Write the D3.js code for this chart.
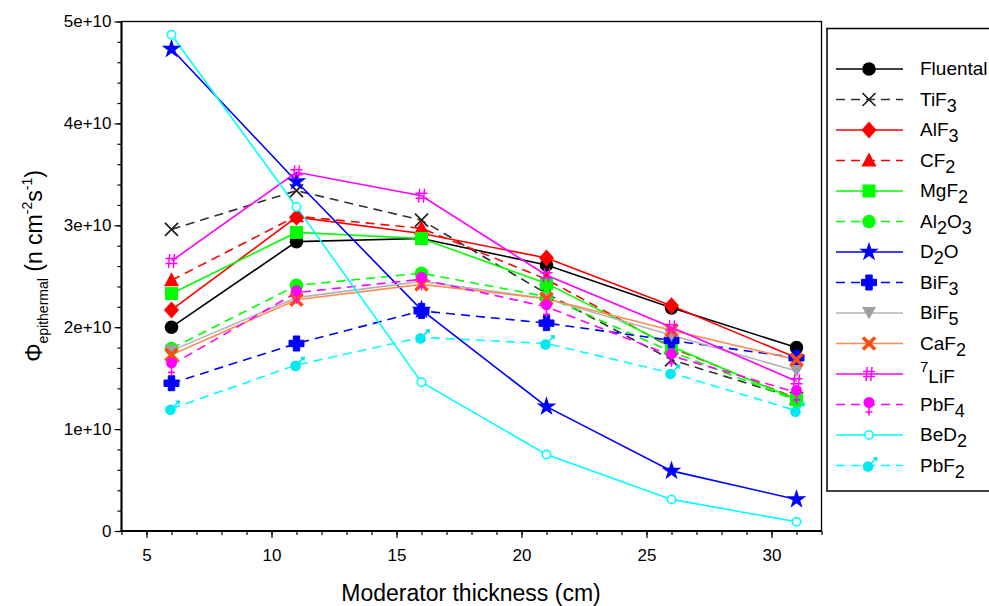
<!DOCTYPE html>
<html>
<head>
<meta charset="utf-8">
<script src="https://cdn.jsdelivr.net/npm/d3@7"></script>
<style>
  html, body { margin: 0; padding: 0; background: #fff; }
  svg { display: block; font-family: "Liberation Sans", Arial, sans-serif; }
</style>
</head>
<body>
<svg id="chart" width="989" height="606"></svg>
<script>
// ---------- data (neutron flux, n cm^-2 s^-1) ----------
const thickness = [6, 11, 16, 21, 26, 31];
const fluental = [2.00e10, 2.84e10, 2.87e10, 2.61e10, 2.19e10, 1.80e10];
const tiF3     = [2.96e10, 3.34e10, 3.05e10, 2.33e10, 1.68e10, 1.30e10];
const alF3     = [2.17e10, 3.08e10, 2.92e10, 2.68e10, 2.21e10, 1.70e10];
const cF2      = [2.46e10, 3.09e10, 2.97e10, 2.47e10, 1.80e10, 1.30e10];
const mgF2     = [2.33e10, 2.93e10, 2.87e10, 2.43e10, 1.81e10, 1.29e10];
const al2O3    = [1.79e10, 2.41e10, 2.53e10, 2.30e10, 1.76e10, 1.28e10];
const d2O      = [4.73e10, 3.43e10, 2.17e10, 1.22e10, 0.59e10, 0.31e10];
const biF3     = [1.45e10, 1.84e10, 2.16e10, 2.04e10, 1.87e10, 1.70e10];
const biF5     = [1.77e10, 2.29e10, 2.45e10, 2.28e10, 1.92e10, 1.57e10];
const caF2     = [1.73e10, 2.27e10, 2.42e10, 2.28e10, 1.97e10, 1.68e10];
const liF7     = [2.65e10, 3.52e10, 3.29e10, 2.51e10, 2.00e10, 1.47e10];
const pbF4     = [1.63e10, 2.34e10, 2.47e10, 2.20e10, 1.72e10, 1.36e10];
const beD2     = [4.87e10, 3.18e10, 1.46e10, 0.75e10, 0.31e10, 0.09e10];
const pbF2     = [1.20e10, 1.63e10, 1.90e10, 1.84e10, 1.55e10, 1.18e10];

const xTickValues = [5, 10, 15, 20, 25, 30];
const yTickValues = [0, 1e10, 2e10, 3e10, 4e10, 5e10];
const yTickLabels = ["0", "1e+10", "2e+10", "3e+10", "4e+10", "5e+10"];

// legend label pieces: [text, kind] kind: n normal, sub subscript, sup superscript
const seriesLabels = [
  [["Fluental","n"]],
  [["TiF","n"],["3","sub"]],
  [["AlF","n"],["3","sub"]],
  [["CF","n"],["2","sub"]],
  [["MgF","n"],["2","sub"]],
  [["Al","n"],["2","sub"],["O","n"],["3","sub"]],
  [["D","n"],["2","sub"],["O","n"]],
  [["BiF","n"],["3","sub"]],
  [["BiF","n"],["5","sub"]],
  [["CaF","n"],["2","sub"]],
  [["7","sup"],["LiF","subn"]],
  [["PbF","n"],["4","sub"]],
  [["BeD","n"],["2","sub"]],
  [["PbF","n"],["2","sub"]]
];
const seriesValues = [fluental, tiF3, alF3, cF2, mgF2, al2O3, d2O, biF3, biF5, caF2, liF7, pbF4, beD2, pbF2];

// styles
const styles = [
  {line:"#000000", mark:"#000000", dash:null,  marker:"circle"},
  {line:"#303030", mark:"#202020", dash:"9,6", marker:"x"},
  {line:"#ff0000", mark:"#ff0000", dash:null,  marker:"diamond"},
  {line:"#ff0000", mark:"#ff0000", dash:"9,6", marker:"triangle"},
  {line:"#00ff00", mark:"#00ff00", dash:null,  marker:"square"},
  {line:"#00ff00", mark:"#00ff00", dash:"9,6", marker:"circle"},
  {line:"#0000ff", mark:"#0000ff", dash:null,  marker:"star"},
  {line:"#0000ff", mark:"#0000ff", dash:"9,6", marker:"plus"},
  {line:"#b4b4b4", mark:"#a0a0a0", dash:null,  marker:"tridown"},
  {line:"#ff8c55", mark:"#ff4a10", dash:null,  marker:"xthick"},
  {line:"#ff00ff", mark:"#ff00ff", dash:null,  marker:"hash"},
  {line:"#ff00ff", mark:"#ff00ff", dash:"9,6", marker:"female"},
  {line:"#00ffff", mark:"#00ffff", dash:null,  marker:"open"},
  {line:"#00ffff", mark:"#00e8f0", dash:"9,6", marker:"male"}
];

const svg = d3.select("#chart");
svg.append("rect").attr("width", 989).attr("height", 606).attr("fill", "#fff");

const x = d3.scaleLinear().domain([4, 32]).range([121.5, 821.5]);
const y = d3.scaleLinear().domain([0, 5e10]).range([531, 21.5]);

// ---------- markers ----------
function drawMarker(g, type, color) {
  switch (type) {
    case "circle":
      g.append("circle").attr("r", 6.8).attr("fill", color); break;
    case "x":
      g.append("path").attr("d", "M-6.5,-6.5L6.5,6.5M-6.5,6.5L6.5,-6.5")
        .attr("stroke", color).attr("stroke-width", 1.7).attr("fill", "none"); break;
    case "diamond":
      g.append("path").attr("d", "M0,-8.5L7.5,0L0,8.5L-7.5,0Z").attr("fill", color); break;
    case "triangle":
      g.append("path").attr("d", "M0,-8L7.5,6L-7.5,6Z").attr("fill", color); break;
    case "square":
      g.append("rect").attr("x", -6.5).attr("y", -6.5).attr("width", 13).attr("height", 13).attr("fill", color); break;
    case "star":
      g.append("path").attr("d", d3.symbol(d3.symbolStar, 120)()).attr("fill", color); break;
    case "plus":
      g.append("path").attr("d", "M-3.2,-7.5H3.2V-3.2H7.5V3.2H3.2V7.5H-3.2V3.2H-7.5V-3.2H-3.2Z")
        .attr("fill", color).attr("stroke", color).attr("stroke-width", 1).attr("stroke-linejoin", "round"); break;
    case "tridown":
      g.append("path").attr("d", "M-7,-6L7,-6L0,6.5Z").attr("fill", color); break;
    case "xthick":
      g.append("path").attr("d", "M-6,-6L6,6M-6,6L6,-6")
        .attr("stroke", color).attr("stroke-width", 3.6).attr("fill", "none"); break;
    case "hash":
      g.append("path").attr("d", "M-1.8,-7L-3,7M3,-7L1.8,7M-6,-2.5H6M-6,2.5H6")
        .attr("stroke", color).attr("stroke-width", 1.5).attr("fill", "none"); break;
    case "female":
      g.append("circle").attr("cy", -2).attr("r", 5.5).attr("fill", color);
      g.append("path").attr("d", "M0,3V11M-3.5,7.5H3.5")
        .attr("stroke", color).attr("stroke-width", 1.6).attr("fill", "none"); break;
    case "open":
      g.append("circle").attr("r", 4.2).attr("fill", "#fff")
        .attr("stroke", color).attr("stroke-width", 1.6); break;
    case "male":
      g.append("circle").attr("cx", -1).attr("cy", 1).attr("r", 5.3).attr("fill", color);
      g.append("path").attr("d", "M2,-2L7.5,-7.5").attr("stroke", color).attr("stroke-width", 1.6);
      g.append("path").attr("d", "M8.5,-8.5L3.5,-8L8,-3.5Z").attr("fill", color); break;
  }
}

// ---------- frame & axes ----------
const plot = svg.append("g");

// minor ticks x
svg.append("g").attr("transform", "translate(0,531)")
  .call(d3.axisBottom(x).tickValues(d3.range(4, 33, 1)).tickSize(4).tickFormat(""))
  .call(g => g.select(".domain").remove())
  .call(g => g.selectAll("line").attr("stroke", "#000").attr("stroke-width", 1.2));
// major ticks x
svg.append("g").attr("transform", "translate(0,531)")
  .call(d3.axisBottom(x).tickValues(xTickValues).tickSize(7).tickPadding(11).tickFormat(d3.format("d")))
  .call(g => g.select(".domain").remove())
  .call(g => g.selectAll("line").attr("stroke", "#000").attr("stroke-width", 1.2))
  .call(g => g.selectAll("text").attr("font-size", 17).attr("fill", "#000")
        .attr("font-family", "'Liberation Sans', Arial, sans-serif"));

// minor ticks y
svg.append("g").attr("transform", "translate(121.5,0)")
  .call(d3.axisLeft(y).tickValues(d3.range(0, 5.01e10, 0.2e10)).tickSize(4).tickFormat(""))
  .call(g => g.select(".domain").remove())
  .call(g => g.selectAll("line").attr("stroke", "#000").attr("stroke-width", 1.2));
// major ticks y
svg.append("g").attr("transform", "translate(121.5,0)")
  .call(d3.axisLeft(y).tickValues(yTickValues).tickSize(7).tickPadding(3)
        .tickFormat((d, i) => yTickLabels[i]))
  .call(g => g.select(".domain").remove())
  .call(g => g.selectAll("line").attr("stroke", "#000").attr("stroke-width", 1.2))
  .call(g => g.selectAll("text").attr("font-size", 17).attr("fill", "#000")
        .attr("font-family", "'Liberation Sans', Arial, sans-serif"));

// ---------- series ----------
const line = d3.line().x((d, i) => x(thickness[i])).y(d => y(d));
seriesValues.forEach((vals, s) => {
  const st = styles[s];
  plot.append("path").datum(vals).attr("d", line)
    .attr("fill", "none").attr("stroke", st.line).attr("stroke-width", 1.6)
    .attr("stroke-dasharray", st.dash);
});
seriesValues.forEach((vals, s) => {
  const st = styles[s];
  vals.forEach((v, i) => {
    const g = plot.append("g").attr("transform", `translate(${x(thickness[i])},${y(v)})`);
    drawMarker(g, st.marker, st.mark);
  });
});

// frame
svg.append("rect").attr("x", 121.5).attr("y", 21.5).attr("width", 700).attr("height", 509.5)
  .attr("fill", "none").attr("stroke", "#000").attr("stroke-width", 1.3);
svg.append("line").attr("x1", 121.5).attr("x2", 121.5).attr("y1", 21.5).attr("y2", 531)
  .attr("stroke", "#000").attr("stroke-width", 2);
svg.append("line").attr("x1", 121.5).attr("x2", 821.5).attr("y1", 531).attr("y2", 531)
  .attr("stroke", "#000").attr("stroke-width", 2);

// ---------- axis titles ----------
svg.append("text").attr("x", 471).attr("y", 601).attr("text-anchor", "middle")
  .attr("font-size", 23).attr("fill", "#000").text("Moderator thickness (cm)");

const yt = svg.append("text").attr("transform", "translate(42,266) rotate(-90)")
  .attr("text-anchor", "middle").attr("font-size", 23).attr("fill", "#000");
yt.append("tspan").text("Φ");
yt.append("tspan").attr("font-size", 14).attr("dy", 6).text("epithermal");
yt.append("tspan").attr("dy", -6).text(" (n cm");
yt.append("tspan").attr("font-size", 14).attr("dy", -10).text("-2");
yt.append("tspan").attr("dy", 10).text("s");
yt.append("tspan").attr("font-size", 14).attr("dy", -10).text("-1");
yt.append("tspan").attr("dy", 10).text(")");

// ---------- legend ----------
const lg = svg.append("g");
lg.append("rect").attr("x", 827).attr("y", 28.5).attr("width", 175).attr("height", 462.5)
  .attr("fill", "#fff").attr("stroke", "#000").attr("stroke-width", 1.5);
seriesLabels.forEach((lab, s) => {
  const st = styles[s];
  const cy = 69 + s * 30.5;
  lg.append("line").attr("x1", 836).attr("x2", 903).attr("y1", cy).attr("y2", cy)
    .attr("stroke", st.line).attr("stroke-width", 1.6).attr("stroke-dasharray", st.dash);
  const g = lg.append("g").attr("transform", `translate(869,${cy})`);
  drawMarker(g, st.marker, st.mark);
  const t = lg.append("text").attr("x", 920).attr("y", cy + 6).attr("font-size", 19).attr("fill", "#000");
  let cur = 0;
  lab.forEach(([txt, kind]) => {
    let target = 0, fs = 19;
    if (kind === "sub") { target = 6; fs = 18; }
    else if (kind === "sup") { target = -8; fs = 15; }
    else if (kind === "subn") { target = 3; fs = 19; }
    t.append("tspan").attr("dy", target - cur).attr("font-size", fs).text(txt);
    cur = target;
  });
});
</script>
</body>
</html>
